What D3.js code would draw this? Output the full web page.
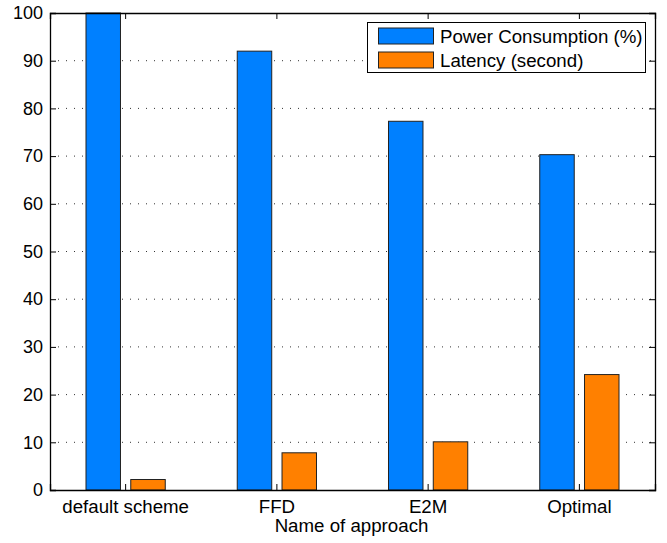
<!DOCTYPE html>
<html>
<head>
<meta charset="utf-8">
<script src="https://cdn.jsdelivr.net/npm/d3@7"></script>
<style>
  body { margin: 0; background: #fff; }
  svg { display: block; font-family: "Liberation Sans", Arial, Helvetica, sans-serif; }
</style>
</head>
<body>
<svg id="chart" width="667" height="543"></svg>
<script>
// Approaches compared along the x axis
const categories = ["default scheme", "FFD", "E2M", "Optimal"];
// Series values
const powerConsumption = [100, 92, 77.3, 70.3];
const latency = [2.2, 7.8, 10.1, 24.2];
const seriesNames = ["Power Consumption (%)", "Latency (second)"];
const seriesColors = ["#0080ff", "#ff8000"];
const yTicks = [0, 10, 20, 30, 40, 50, 60, 70, 80, 90, 100];

const svg = d3.select("#chart");
const margin = { left: 50, right: 12, top: 13, bottom: 53 };
const W = 667, H = 543;
const x0 = margin.left, x1 = W - margin.right;
const y0 = H - margin.bottom, y1 = margin.top;
const fontSize = "18.7px";

const x = d3.scaleBand().domain(categories).range([x0, x1]).padding(0);
const y = d3.scaleLinear().domain([0, 100]).range([y0, y1]);
const bw = x.bandwidth();
const barW = bw * 0.228;
const offset = bw * 0.148;

// Dotted horizontal grid
svg.append("g").selectAll("line").data(yTicks.slice(1, -1)).join("line")
  .attr("x1", x0).attr("x2", x1)
  .attr("y1", d => y(d)).attr("y2", d => y(d))
  .attr("stroke", "#333").attr("stroke-width", 1)
  .attr("stroke-dasharray", "1,7");

// Bars
const series = [powerConsumption, latency];
series.forEach((vals, si) => {
  svg.append("g").selectAll("rect").data(categories).join("rect")
    .attr("x", (c) => x(c) + bw / 2 + (si === 0 ? -offset : offset) - barW / 2)
    .attr("width", barW)
    .attr("y", (c, i) => y(vals[i]))
    .attr("height", (c, i) => y0 - y(vals[i]))
    .attr("fill", seriesColors[si])
    .attr("stroke", "#222").attr("stroke-width", 1);
});

// Axes: left/bottom with labels, top/right as box with inward ticks
const tickLen = 6;
const gLeft = svg.append("g").attr("transform", `translate(${x0},0)`)
  .call(d3.axisLeft(y).tickValues(yTicks).tickSize(-tickLen).tickPadding(7));
const gRight = svg.append("g").attr("transform", `translate(${x1},0)`)
  .call(d3.axisRight(y).tickValues(yTicks).tickSize(-tickLen).tickFormat(""));
const gBottom = svg.append("g").attr("transform", `translate(0,${y0})`)
  .call(d3.axisBottom(x).tickSize(-tickLen).tickPadding(10));
const gTop = svg.append("g").attr("transform", `translate(0,${y1})`)
  .call(d3.axisTop(x).tickSize(-tickLen).tickFormat(""));

[gLeft, gRight, gBottom, gTop].forEach(g => {
  g.select(".domain").attr("stroke", "#000").attr("stroke-width", 1.3);
  g.selectAll(".tick line").attr("stroke", "#000").attr("stroke-width", 1);
  g.selectAll("text").attr("fill", "#000").style("font-size", fontSize)
    .style("font-family", "'Liberation Sans', Arial, sans-serif");
});
gLeft.selectAll("text").style("font-size", "18px");
gBottom.selectAll("text").attr("dy", "0.71em");

// X axis title
svg.append("text")
  .attr("x", (x0 + x1) / 2 - 1).attr("y", 532)
  .attr("text-anchor", "middle")
  .style("font-size", fontSize)
  .text("Name of approach");

// Legend
const lg = svg.append("g");
lg.append("rect").attr("x", 367.5).attr("y", 22.5).attr("width", 278).attr("height", 50)
  .attr("fill", "#fff").attr("stroke", "#000").attr("stroke-width", 1);
seriesNames.forEach((name, i) => {
  const cy = 36 + i * 24;
  lg.append("rect").attr("x", 378.5).attr("y", cy - 8).attr("width", 55).attr("height", 16)
    .attr("fill", seriesColors[i]).attr("stroke", "#222").attr("stroke-width", 1);
  lg.append("text").attr("x", 440).attr("y", cy).attr("dy", "0.35em")
    .style("font-size", fontSize).text(name);
});
</script>
</body>
</html>
